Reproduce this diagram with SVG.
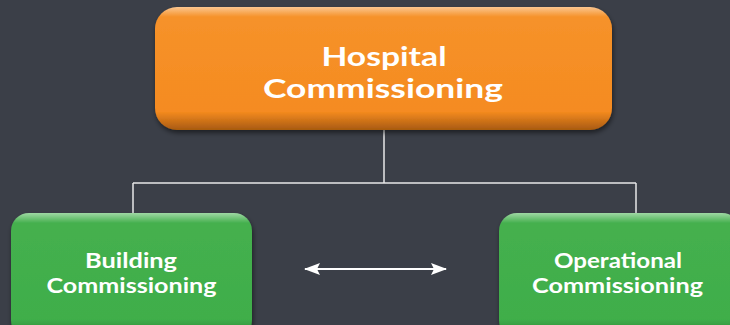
<svg xmlns="http://www.w3.org/2000/svg" width="730" height="325" viewBox="0 0 730 325">
<defs>
<style>
.t{font-family:Lato,"Open Sans","Liberation Sans",sans-serif;fill:#fff;text-anchor:middle;font-weight:700}
.big{font-size:26px}
.small{font-size:20px}
.con{stroke:#e8e8e8;stroke-width:1.5;fill:none}
</style>
<linearGradient id="og" x1="0" y1="0" x2="0" y2="1">
<stop offset="0" stop-color="#fbc690"/>
<stop offset="0.08" stop-color="#f6922a"/>
<stop offset="0.85" stop-color="#f58b20"/>
<stop offset="1" stop-color="#a85a10"/>
</linearGradient>
<linearGradient id="gg" x1="0" y1="0" x2="0" y2="1">
<stop offset="0" stop-color="#9fd8a4"/>
<stop offset="0.08" stop-color="#45b04e"/>
<stop offset="0.85" stop-color="#3fae4a"/>
<stop offset="1" stop-color="#2a7a32"/>
</linearGradient>
<filter id="sh" x="-10%" y="-10%" width="120%" height="130%">
<feDropShadow dx="1" dy="3" stdDeviation="2.5" flood-color="#000" flood-opacity="0.5"/>
</filter>
<marker id="ah" viewBox="0 0 16 12" refX="15" refY="6" markerWidth="16" markerHeight="12" markerUnits="userSpaceOnUse" orient="auto-start-reverse">
<path d="M0,0 L16,6 L0,12 L3,6 Z" fill="#fff"/>
</marker>
</defs>
<rect width="730" height="325" fill="#3b3f48"/>
<g id="connectors">
<path class="con" d="M384,130 V183 M133,183 H636 M133,183 V214 M636,183 V214"/>
<line x1="305" y1="269" x2="446" y2="269" stroke="#fff" stroke-width="2" marker-start="url(#ah)" marker-end="url(#ah)"/>
</g>
<g id="hospital">
<rect x="155" y="7" width="457" height="123" rx="22" fill="url(#og)" filter="url(#sh)"/>
<text class="t big" x="384" y="66" textLength="125" lengthAdjust="spacingAndGlyphs">Hospital</text>
<text class="t big" x="383" y="98" textLength="240" lengthAdjust="spacingAndGlyphs">Commissioning</text>
</g>
<g id="building">
<rect x="11" y="213" width="241" height="125" rx="18" fill="url(#gg)" filter="url(#sh)"/>
<text class="t small" x="131" y="268" textLength="92" lengthAdjust="spacingAndGlyphs">Building</text>
<text class="t small" x="131.5" y="293" textLength="170" lengthAdjust="spacingAndGlyphs">Commissioning</text>
</g>
<g id="operational">
<rect x="499" y="213" width="241" height="125" rx="18" fill="url(#gg)" filter="url(#sh)"/>
<text class="t small" x="618" y="268" textLength="128" lengthAdjust="spacingAndGlyphs">Operational</text>
<text class="t small" x="617.5" y="293" textLength="171" lengthAdjust="spacingAndGlyphs">Commissioning</text>
</g>
</svg>
